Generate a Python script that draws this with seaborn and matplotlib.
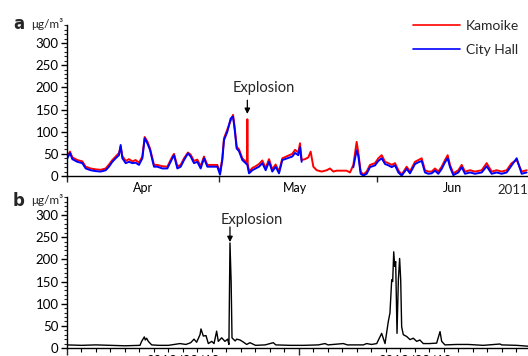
import numpy as np
import pandas as pd
import matplotlib
matplotlib.use("Agg")
import matplotlib.pyplot as plt
import seaborn as sns
from matplotlib.ticker import MultipleLocator, FixedLocator, FuncFormatter, NullFormatter
from matplotlib.lines import Line2D

# ---------------- data ----------------
# panel a: days since 2011-04-01
kamoike_day = [0.07, 0.59, 1.05, 2.03, 3.02, 3.68, 4.66, 5.65, 6.63, 7.62, 8.27, 8.93, 9.59, 10.24, 10.57,
               10.9, 11.56, 12.21, 12.87, 13.52, 14.18, 14.84, 15.3, 15.82, 16.35, 16.81, 17.14, 17.79,
               18.78, 19.76, 20.75, 21.08, 21.73, 22.39, 23.05, 23.83, 24.36, 25.01, 25.67, 26.33, 26.98,
               27.64, 28.62, 29.61, 30.14, 30.59, 30.92, 31.58, 32.24, 32.7, 33.03, 33.42, 33.88, 34.53,
               35.19, 35.45, 35.52, 35.6, 35.85, 36.5, 37.16, 37.82, 38.47, 39.13, 39.79, 40.44, 41.1,
               41.76, 42.41, 43.4, 44.38, 44.91, 45.56, 45.89, 46.22, 46.88, 47.53, 47.99, 48.52, 49.18,
               50.16, 51.15, 51.8, 52.46, 53.11, 54.1, 55.08, 55.74, 56.4, 57.05, 57.38, 57.84, 58.37,
               59.02, 59.68, 60.67, 61.32, 61.98, 62.64, 63.29, 63.95, 64.61, 65.26, 65.92, 66.9, 67.56,
               68.54, 69.2, 69.86, 70.51, 71.17, 71.83, 72.48, 73.14, 73.8, 74.45, 74.98, 75.44, 76.09,
               77.08, 77.74, 78.39, 79.38, 80.36, 81.68, 82.66, 83.64, 84.63, 85.61, 86.6, 87.58, 88.57,
               89.55, 90.53]
kamoike_val = [45, 55, 42, 36, 33, 21, 17, 15, 14, 17, 26, 36, 44, 52, 66,
               45, 34, 38, 33, 36, 30, 44, 88, 78, 62, 40, 25, 25,
               22, 21, 44, 50, 22, 25, 40, 53, 48, 34, 37, 22, 44,
               25, 25, 25, 8, 40, 85, 105, 125, 138, 110, 66, 60, 40,
               33, 30, 128, 28, 10, 18, 22, 27, 35, 18, 38, 15, 26,
               10, 40, 45, 50, 59, 53, 74, 36, 38, 42, 55, 21, 13,
               10, 13, 17, 10, 12, 12, 12, 8, 25, 77, 53, 10, 3,
               10, 25, 29, 40, 47, 32, 29, 25, 29, 13, 3, 21, 10,
               32, 36, 40, 13, 10, 10, 17, 10, 21, 36, 47, 25, 6,
               13, 25, 10, 13, 10, 13, 29, 10, 13, 10, 13, 29, 36,
               10, 13]

cityhall_day_1 = [0.07, 0.59, 1.05, 2.03, 3.02, 3.68, 4.66, 5.65, 6.63, 7.62, 8.27, 8.93, 9.59, 10.24, 10.57,
                  10.9, 11.56, 12.21, 12.87, 13.52, 14.18, 14.84, 15.3, 15.82, 16.35, 16.81, 17.14, 17.79,
                  18.78, 19.76, 20.75, 21.08, 21.73, 22.39, 23.05, 23.83, 24.36, 25.01, 25.67, 26.33, 26.98,
                  27.64, 28.62, 29.61, 30.14, 30.59, 30.92, 31.58, 32.24, 32.7, 33.03, 33.42, 33.88, 34.53,
                  35.19, 35.52, 35.85, 36.5, 37.16, 37.82, 38.47, 39.13, 39.79, 40.44, 41.1, 41.76, 42.41,
                  43.4, 44.38, 44.91, 45.56, 45.89, 46.22]
cityhall_val_1 = [40, 52, 38, 32, 29, 17, 13, 11, 10, 13, 21, 32, 40, 47, 70,
                  40, 29, 32, 29, 30, 25, 40, 85, 74, 59, 36, 21, 21,
                  17, 17, 40, 47, 17, 21, 36, 51, 44, 29, 32, 17, 40,
                  21, 21, 21, 3, 36, 81, 100, 130, 134, 104, 62, 56, 36,
                  29, 25, 6, 13, 17, 21, 29, 13, 32, 10, 21, 6, 36,
                  40, 44, 52, 47, 65, 32]
cityhall_day_2 = [56.4, 57.05, 57.38, 57.84, 58.37, 59.02, 59.68, 60.67, 61.32, 61.98, 62.64, 63.29, 63.95,
                  64.61, 65.26, 65.92, 66.9, 67.56, 68.54, 69.2, 69.86, 70.51, 71.17, 71.83, 72.48, 73.14,
                  73.8, 74.45, 74.98, 75.44, 76.09, 77.08, 77.74, 78.39, 79.38, 80.36, 81.68, 82.66, 83.64,
                  84.63, 85.61, 86.6, 87.58, 88.57, 89.55, 90.53]
cityhall_val_2 = [20, 58, 45, 5, 1, 5, 20, 24, 34, 40, 27, 24, 20,
                  24, 8, 1, 16, 6, 27, 31, 34, 8, 5, 6, 12, 5,
                  16, 31, 40, 20, 2, 8, 20, 5, 8, 5, 8, 22, 5,
                  8, 5, 8, 24, 40, 5, 8]

month_names = ["Apr", "May", "Jun"]
year_label = "2011"

# panel b: hours since 2013-08-18 00:00
b_hour = [0, 1.5, 3, 4.5, 6, 7.55, 7.72, 8.0, 8.1, 8.24, 8.41, 8.76, 9.5, 10.5, 11.69, 12.3, 12.8, 13.14,
          13.41, 13.76, 13.86, 14.1, 14.38, 14.62, 14.97, 15.21, 15.48, 15.65, 16.0, 16.34, 16.62, 16.75,
          16.86, 16.98, 17.07, 17.2, 17.4, 17.55, 17.9, 18.2, 18.59, 18.93, 19.5, 20.5, 21.34, 21.6,
          23.07, 24.5, 26.0, 26.69, 27.0, 28.59, 29.0, 29.27, 30.65, 31.0, 31.5, 32.04, 32.55, 32.9,
          33.24, 33.41, 33.59, 33.69, 33.8, 33.9, 34.0, 34.14, 34.28, 34.41, 34.52, 34.62, 34.79, 35.14,
          35.48, 35.83, 36.17, 36.5, 36.86, 37.5, 38.24, 38.59, 38.76, 39.1, 40.31, 41.5, 43.07, 44.79,
          44.97, 46.52, 47.72]
b_val = [7, 6, 7, 6, 5, 6, 15, 25, 18, 22, 15, 7, 6, 6, 10, 8, 12, 20,
         13, 30, 43, 27, 28, 10, 15, 10, 38, 15, 23, 15, 20, 8,
         237, 150, 23, 20, 16, 20, 18, 14, 8, 12, 6, 7, 12, 7,
         6, 6, 7, 10, 7, 10, 7, 7, 7, 10, 8, 10, 33, 10,
         60, 79, 154, 150, 217, 184, 195, 33, 154, 202, 154, 48, 30, 26,
         19, 22, 15, 18, 10, 10, 11, 37, 15, 7, 8, 8, 6, 9,
         7, 6, 4]
b_day_labels = ["2013/08/18", "2013/08/19"]

# ---------------- figure ----------------
sns.set_theme(style="ticks")
plt.rcParams["font.family"] = ["Lato", "DejaVu Sans"]
plt.rcParams["axes.linewidth"] = 1.0

W, H = 528, 356
fig = plt.figure(figsize=(W / 100, H / 100), dpi=100)


def rect(l, t, r, b):
    return [l / W, 1 - b / H, (r - l) / W, (b - t) / H]


axa = fig.add_axes(rect(67, 25.3, 528, 176))
axb = fig.add_axes(rect(67, 197.3, 528, 348))

RED = "#ff0000"
BLUE = "#0000ff"

dfa = pd.concat([
    pd.DataFrame({"day": kamoike_day, "val": kamoike_val, "station": "Kamoike", "seg": "k"}),
    pd.DataFrame({"day": cityhall_day_1, "val": cityhall_val_1, "station": "City Hall", "seg": "c1"}),
    pd.DataFrame({"day": cityhall_day_2, "val": cityhall_val_2, "station": "City Hall", "seg": "c2"}),
], ignore_index=True)

sns.lineplot(data=dfa, x="day", y="val", hue="station", units="seg", estimator=None, sort=False,
             palette={"Kamoike": RED, "City Hall": BLUE}, linewidth=1.4, legend=False, ax=axa)

dfb = pd.DataFrame({"hour": b_hour, "val": b_val})
sns.lineplot(data=dfb, x="hour", y="val", color="black", linewidth=1.0, estimator=None, sort=False,
             legend=False, ax=axb)

for ax in (axa, axb):
    ax.set_ylim(0, 340)
    ax.yaxis.set_minor_locator(MultipleLocator(10))
    ax.set_yticks([0, 50, 100, 150, 200, 250, 300])
    ax.tick_params(axis="y", which="major", direction="out", length=4, width=1, labelsize=9.5, pad=2,
                   colors="black")
    ax.tick_params(axis="y", which="minor", direction="out", length=2, width=0.8)
    ax.set_xlabel("")
    ax.set_ylabel("")
    for s in ("top", "right"):
        ax.spines[s].set_visible(False)
    for s in ("left", "bottom"):
        ax.spines[s].set_color("black")
    ax.set_facecolor("white")

# panel a x axis (months)
axa.set_xlim(0, 90.8)
month_starts = [0, 30, 61, 91]
month_mids = [15, 45, 76]
axa.xaxis.set_major_locator(FixedLocator(month_starts))
axa.xaxis.set_major_formatter(NullFormatter())
axa.xaxis.set_minor_locator(FixedLocator(month_mids))
axa.xaxis.set_minor_formatter(FuncFormatter(lambda v, p: month_names[p] if p < len(month_names) else ""))
axa.tick_params(axis="x", which="major", direction="out", length=4, width=1)
axa.tick_params(axis="x", which="minor", length=0, labelsize=9, pad=4, colors="black")
axa.text(1.0, -0.05, year_label, transform=axa.transAxes, ha="right", va="top", fontsize=9.5)

# panel b x axis (hours)
axb.set_xlim(0, 47.69)
axb.xaxis.set_major_locator(FixedLocator([0, 24, 48]))
axb.xaxis.set_major_formatter(NullFormatter())
axb.xaxis.set_minor_locator(MultipleLocator(1.5))
label_pos = {12.0: b_day_labels[0], 36.0: b_day_labels[1]}
axb.xaxis.set_minor_formatter(FuncFormatter(lambda v, p: label_pos.get(round(v, 1), "")))
axb.tick_params(axis="x", which="major", direction="out", length=5, width=1)
axb.tick_params(axis="x", which="minor", direction="out", length=3, width=0.8, labelsize=9.5, pad=1.5,
                colors="black")

# explosion annotations: vertical arrow with label above
arrow_kw = dict(arrowstyle="-|>", color="black", lw=0.9, mutation_scale=8, shrinkA=0, shrinkB=0)
axa.annotate("", xy=(35.52, 140), xytext=(35.52, 171), arrowprops=arrow_kw, annotation_clip=False)
axa.text(38.8, 198, "Explosion", ha="center", va="center", fontsize=10.5)
axb.annotate("", xy=(16.86, 239), xytext=(16.86, 273), arrowprops=arrow_kw, annotation_clip=False)
axb.text(19.1, 289, "Explosion", ha="center", va="center", fontsize=10.5)

# legend
handles = [Line2D([], [], color=RED, lw=1.2), Line2D([], [], color=BLUE, lw=1.2)]
fig.legend(handles, ["Kamoike", "City Hall"], loc="upper left", bbox_to_anchor=(413 / W, 1 - 20 / H),
           bbox_transform=fig.transFigure, frameon=False, fontsize=10, handlelength=3.4,
           handletextpad=0.4, labelspacing=0.85, borderpad=0, borderaxespad=0)

# panel letters and units
fig.text(13 / W, 1 - 24 / H, "a", fontsize=12, fontweight="bold", family="DejaVu Sans", va="center")
fig.text(31 / W, 1 - 24 / H, "μg/m³", fontsize=8.5, va="center")
fig.text(13 / W, 1 - 201 / H, "b", fontsize=12, fontweight="bold", family="DejaVu Sans", va="center")
fig.text(31 / W, 1 - 200 / H, "μg/m³", fontsize=8.5, va="center")

fig.savefig("out.png", dpi=100, facecolor="white")
